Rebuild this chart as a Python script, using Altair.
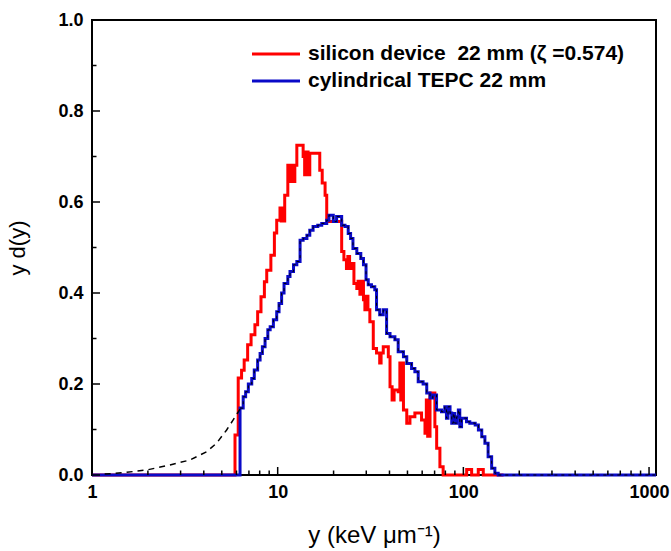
import altair as alt
import pandas as pd

# ---------------- data ----------------
red_x = [1.0, 5.89, 6.13, 6.39, 6.60, 6.89, 7.19, 7.54, 7.80, 8.13, 8.48, 8.73, 9.19, 9.60, 9.88,
         10.29, 10.44, 10.60, 10.75, 10.91, 11.34, 11.60, 11.86, 12.11, 12.37, 12.68, 13.71, 13.97, 14.23,
         14.58, 14.89, 16.85, 17.37, 18.0, 18.37, 22.11, 22.73, 23.46, 23.87, 24.39, 25.02, 25.74, 26.68, 27.09,
         27.72, 28.24, 28.97, 29.49, 30.01, 30.63, 31.36, 32.72, 34.07, 35.43, 36.05, 37.03, 39.43, 40.27, 41.32,
         42.36, 44.56, 45.50, 46.02, 46.55, 47.57, 49.56, 51.56, 54.81, 59.54, 62.13, 63.18, 64.23, 66.13, 70.24,
         71.81, 74.76, 77.82, 104.2, 110.8, 120.3, 128.0, 164.6]
red_y = [0.0, 0.088, 0.213, 0.23, 0.253, 0.286, 0.308, 0.33, 0.359, 0.392, 0.425, 0.45, 0.483, 0.532, 0.56,
         0.587, 0.558, 0.587, 0.558, 0.615, 0.681, 0.645, 0.681, 0.645, 0.681, 0.725, 0.70, 0.66, 0.71,
         0.66, 0.707, 0.67, 0.642, 0.615, 0.557, 0.491, 0.473, 0.454, 0.48, 0.454, 0.465, 0.421, 0.41, 0.426,
         0.397, 0.426, 0.385, 0.363, 0.393, 0.363, 0.337, 0.278, 0.268, 0.246, 0.268, 0.282, 0.26, 0.194, 0.165,
         0.187, 0.183, 0.246, 0.165, 0.246, 0.143, 0.114, 0.128, 0.136, 0.121, 0.092, 0.165, 0.085, 0.18, 0.106,
         0.059, 0.018, 0.0, 0.012, 0.0, 0.012, 0.0, 0.0]

blue_x = [1.0, 6.27, 6.52, 6.72, 6.95, 7.25, 7.48, 7.80, 8.04, 8.27, 8.55, 8.85, 9.11, 9.48, 9.88, 10.17,
          10.50, 10.82, 11.34, 11.65, 12.17, 12.68, 13.20, 13.71, 14.37, 14.89, 15.51, 16.44, 17.27, 18.37, 18.89,
          19.93, 20.76, 22.11, 23.04, 23.98, 24.70, 25.43, 26.68, 28.03, 28.97, 29.91, 30.74, 31.99, 33.34, 34.07,
          35.43, 37.03, 38.60, 40.27, 42.78, 44.56, 47.57, 49.56, 52.61, 54.81, 57.12, 60.69, 63.50, 66.13, 68.45,
          71.71, 76.24, 79.40, 81.08, 82.66, 84.77, 86.57, 88.26, 89.85, 92.06, 93.97, 95.66, 97.77, 104.0, 108.3,
          115.8, 120.5, 125.6, 130.6, 135.9, 142.0, 147.8, 154.0, 1090.0]
blue_y = [0.0, 0.147, 0.172, 0.183, 0.20, 0.212, 0.231, 0.253, 0.267, 0.282, 0.30, 0.319, 0.326, 0.341, 0.359, 0.377,
          0.40, 0.421, 0.436, 0.447, 0.462, 0.469, 0.516, 0.52, 0.527, 0.538, 0.546, 0.549, 0.553, 0.56, 0.571,
          0.557, 0.568, 0.549, 0.546, 0.531, 0.52, 0.498, 0.487, 0.476, 0.462, 0.429, 0.418, 0.414, 0.407, 0.363,
          0.352, 0.363, 0.311, 0.304, 0.297, 0.271, 0.26, 0.245, 0.234, 0.227, 0.205, 0.20, 0.18, 0.169, 0.176,
          0.143, 0.139, 0.15, 0.125, 0.15, 0.136, 0.114, 0.135, 0.114, 0.128, 0.143, 0.106, 0.125, 0.117, 0.114,
          0.11, 0.099, 0.084, 0.07, 0.04, 0.015, 0.004, 0.0, 0.0]

ext_x = [1.17, 1.47, 1.97, 2.63, 3.37, 4.14, 4.69, 5.31, 5.76, 6.27]
ext_y = [0.002, 0.005, 0.011, 0.022, 0.033, 0.051, 0.07, 0.099, 0.121, 0.145]

x_major = [1, 10, 100, 1000]
x_minor = [2, 3, 4, 5, 6, 7, 8, 9, 20, 30, 40, 50, 60, 70, 80, 90, 200, 300, 400, 500, 600, 700, 800, 900]
y_major = [0.0, 0.2, 0.4, 0.6, 0.8, 1.0]
y_minor = [0.1, 0.3, 0.5, 0.7, 0.9]
x_domain = [1, 1090]

legend_labels = ["silicon device\u00a0 22 mm (\u03b6 =0.574)", "cylindrical TEPC 22 mm"]
x_title = "y (keV \u03bcm\u207b\u00b9)"
y_title = "y d(y)"

RED = "#ff0000"
BLUE = "#0a0ac8"
FONT = "Liberation Sans"

W, H = 564, 455

xs = alt.Scale(type="log", domain=x_domain, nice=False)
ys = alt.Scale(domain=[0, 1], nice=False)

x_axis = alt.Axis(values=x_major, format="d", title=x_title, ticks=False, domain=False, grid=False,
                  labelFontSize=18, labelFontWeight="bold", labelFont=FONT, labelColor="black",
                  labelPadding=8, titleFontSize=24, titleFontWeight="normal", titleFont=FONT,
                  titleColor="black", titlePadding=22, labelFlush=False)
y_axis = alt.Axis(values=y_major, format=".1f", title=y_title, ticks=False, domain=False, grid=False,
                  labelFontSize=18, labelFontWeight="bold", labelFont=FONT, labelColor="black",
                  labelPadding=9, titleFontSize=22, titleFontWeight="normal", titleFont=FONT,
                  titleColor="black", titlePadding=28, labelFlush=False)

red_df = pd.DataFrame({"x": red_x, "y": red_y})
blue_df = pd.DataFrame({"x": blue_x, "y": blue_y})
blue_dash_df = pd.DataFrame({"x": blue_x[1:], "y": blue_y[1:]})
ext_df = pd.DataFrame({"x": ext_x, "y": ext_y})

red = alt.Chart(red_df).mark_line(color=RED, strokeWidth=3, interpolate="step-after", clip=False).encode(
    x=alt.X("x:Q", scale=xs, axis=x_axis), y=alt.Y("y:Q", scale=ys, axis=y_axis))
blue = alt.Chart(blue_df).mark_line(color=BLUE, strokeWidth=3, interpolate="step-after", clip=False).encode(
    x=alt.X("x:Q", scale=xs), y=alt.Y("y:Q", scale=ys))
blue_dash = alt.Chart(blue_dash_df).mark_line(color="black", strokeWidth=1, strokeDash=[3, 4],
                                              interpolate="step-after").encode(
    x=alt.X("x:Q", scale=xs), y=alt.Y("y:Q", scale=ys))
ext = alt.Chart(ext_df).mark_line(color="black", strokeWidth=1.5, strokeDash=[6, 5]).encode(
    x=alt.X("x:Q", scale=xs), y=alt.Y("y:Q", scale=ys))

# inward ticks
xmaj = alt.Chart(pd.DataFrame({"v": x_major})).mark_rule(color="black", strokeWidth=1.5).encode(
    x=alt.X("v:Q", scale=xs), y=alt.value(H), y2=alt.value(H - 8))
xmin = alt.Chart(pd.DataFrame({"v": x_minor})).mark_rule(color="black", strokeWidth=1.5).encode(
    x=alt.X("v:Q", scale=xs), y=alt.value(H), y2=alt.value(H - 4.5))
ymaj = alt.Chart(pd.DataFrame({"v": y_major})).mark_rule(color="black", strokeWidth=1.5).encode(
    y=alt.Y("v:Q", scale=ys), x=alt.value(0), x2=alt.value(8))
ymin = alt.Chart(pd.DataFrame({"v": y_minor})).mark_rule(color="black", strokeWidth=1.5).encode(
    y=alt.Y("v:Q", scale=ys), x=alt.value(0), x2=alt.value(4.5))

# legend
leg_layers = []
for i, (lab, col) in enumerate(zip(legend_labels, [RED, BLUE])):
    d = pd.DataFrame({"t": [lab]})
    yy = 34 + 27 * i
    leg_layers.append(alt.Chart(d).mark_rule(color=col, strokeWidth=3).encode(
        x=alt.value(160), x2=alt.value(208), y=alt.value(yy)))
    leg_layers.append(alt.Chart(d).mark_text(align="left", baseline="middle", fontSize=21,
                                             fontWeight="bold", font=FONT, color="black").encode(
        x=alt.value(216), y=alt.value(yy), text="t:N"))

chart = alt.layer(red, blue, blue_dash, ext, xmaj, xmin, ymaj, ymin, *leg_layers).properties(
    width=W, height=H,
    autosize=alt.AutoSizeParams(type="none"),
    padding={"left": 92, "top": 20, "right": 15, "bottom": 76},
    background="white",
).configure_view(stroke="black", strokeWidth=2)

chart.save("out.html", embed_options={"renderer": "svg", "actions": False})
